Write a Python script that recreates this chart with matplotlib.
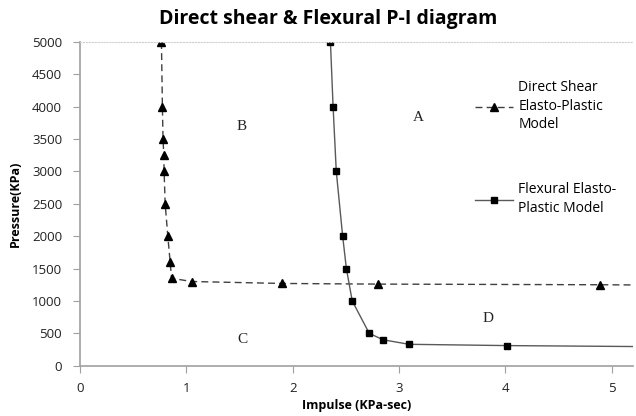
import matplotlib
matplotlib.use("Agg")
import matplotlib.pyplot as plt

# Direct shear elasto-plastic model (impulse KPa-sec, pressure KPa)
shear_impulse = [0.765, 0.774, 0.78, 0.787, 0.79, 0.80, 0.825, 0.847, 0.86, 1.05, 1.90, 2.80, 4.89, 6.5]
shear_pressure = [5000, 4000, 3500, 3250, 3000, 2500, 2000, 1600, 1350, 1300, 1270, 1260, 1250, 1235]

# Flexural elasto-plastic model
flex_impulse = [2.355, 2.38, 2.41, 2.47, 2.505, 2.56, 2.72, 2.85, 3.095, 4.02, 6.5]
flex_pressure = [5000, 4000, 3000, 2000, 1500, 1000, 500, 400, 330, 310, 280]

regions = ["A", "B", "C", "D"]
region_x = [3.18, 1.52, 1.53, 3.84]
region_y = [3840, 3700, 410, 725]

plt.rcParams['font.family'] = ['Open Sans', 'DejaVu Sans']

fig = plt.figure(figsize=(6.36, 4.16), dpi=100)
ax = fig.add_axes([0.126, 0.121, 0.869, 0.778])

ax.plot(shear_impulse, shear_pressure, linestyle=(0, (5, 3)), color='#404040', linewidth=1,
        marker='^', markersize=5.2, markerfacecolor='black', markeredgecolor='black',
        label="Direct Shear\nElasto-Plastic\nModel")
ax.plot(flex_impulse, flex_pressure, linestyle='-', color='#595959', linewidth=1,
        marker='s', markersize=4.8, markerfacecolor='black', markeredgecolor='black',
        label="Flexural Elasto-\nPlastic Model")

for r, x, y in zip(regions, region_x, region_y):
    ax.text(x, y, r, family='Liberation Serif', fontsize=11, ha='center', va='center', color='#222222')

ax.set_xlim(0, 5.2)
ax.set_ylim(0, 5000)
ax.set_xticks(range(0, 6))
ax.set_yticks(range(0, 5001, 500))
ax.tick_params(direction='out', length=5, color='#a0a0a0', labelsize=9.5, labelcolor='#222222')
ax.tick_params(axis='x', pad=7)
ax.tick_params(axis='y', pad=8)

for side in ['left', 'bottom']:
    ax.spines[side].set_color('#a0a0a0')
    ax.spines[side].set_linewidth(1.2)
ax.spines['right'].set_visible(False)
ax.spines['top'].set_color('#d0d0d0')
ax.spines['top'].set_linestyle(':')
ax.spines['top'].set_linewidth(0.8)

fig.text(0.516, 0.978, "Direct shear & Flexural P-I diagram", fontsize=14, fontweight='bold',
         ha='center', va='top')
ax.set_xlabel("Impulse (KPa-sec)", fontsize=9, fontweight='bold', labelpad=3)
ax.set_ylabel("Pressure(KPa)", fontsize=9, fontweight='bold', labelpad=7)

leg = ax.legend(loc='upper left', bbox_to_anchor=(0.692, 0.922), frameon=False, fontsize=10,
                handlelength=2.7, labelspacing=3.6, handletextpad=0.4)
for t in leg.get_texts():
    t.set_linespacing(1.35)

fig.savefig("out.png", dpi=100)
